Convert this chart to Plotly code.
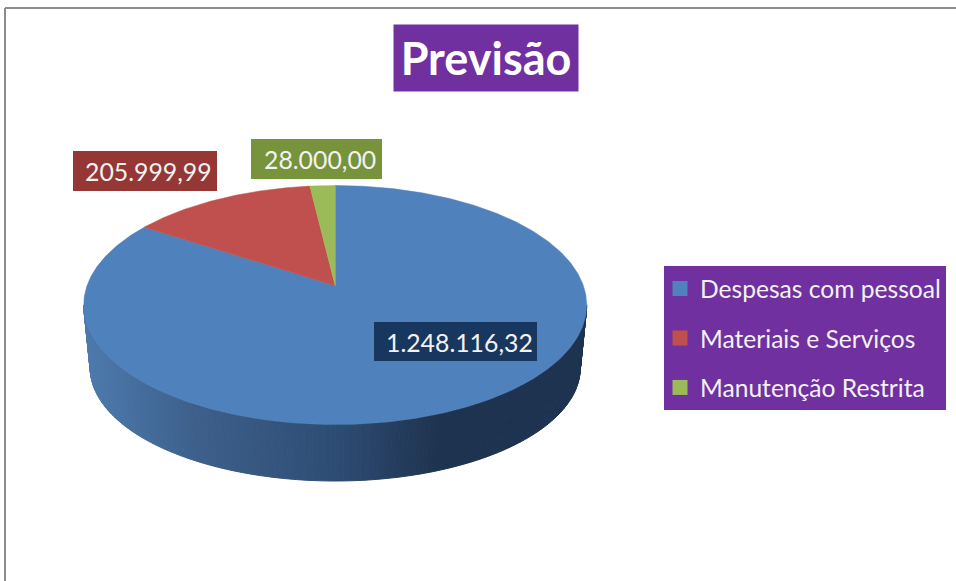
import numpy as np
import plotly.graph_objects as go

categories = ["Despesas com pessoal", "Materiais e Serviços", "Manutenção Restrita"]
values = [1248116.32, 205999.99, 28000.00]
value_labels = ["1.248.116,32", "205.999,99", "28.000,00"]
colors = ["#4F81BD", "#C0504D", "#9BBB59"]
label_colors = ["#17375E", "#953735", "#77933C"]
title_text = "Previsão"

FONT = "Lato"
W, H = 956, 581
CX, CY, A, B = 335.2, 305.0, 251.5, 119.5   # top face ellipse, in pixels
BCX, BCY, BA, BB = 335.2, 368.0, 245.0, 113.0  # bottom rim ellipse
K = 0.85  # perspective of the tilted disc


def rim(theta):
    """Top-face rim point for a true pie angle, clockwise from 12 o'clock."""
    t = 2 * np.arctan2(K * np.sin(theta / 2), np.cos(theta / 2))
    return CX + A * np.sin(t), CY - B * np.cos(t)


APEX = rim(np.pi / 2)[1]


def wedge(start, end):
    th = np.linspace(start, end, max(3, int((end - start) * 90)))
    x, y = rim(th)
    return np.r_[CX, x, CX], np.r_[APEX, y, APEX]


def side_colour(x):
    stops_x = [90, 200, 335, 437, 590]
    stops_r = [76, 61, 46, 31, 30]
    stops_g = [122, 95, 77, 52, 51]
    stops_b = [172, 138, 117, 80, 80]
    return "rgb(%d,%d,%d)" % (
        np.interp(x, stops_x, stops_r),
        np.interp(x, stops_x, stops_g),
        np.interp(x, stops_x, stops_b),
    )


fig = go.Figure()

# side wall (front half of the disc), shaded in thin vertical strips
edges = np.linspace(np.pi / 2, 3 * np.pi / 2, 181)
for t0, t1 in zip(edges[:-1], edges[1:]):
    xs = [CX + A * np.sin(t0), CX + A * np.sin(t1), BCX + BA * np.sin(t1), BCX + BA * np.sin(t0)]
    ys = [CY - B * np.cos(t0), CY - B * np.cos(t1), BCY - BB * np.cos(t1), BCY - BB * np.cos(t0)]
    c = side_colour(np.mean(xs))
    fig.add_trace(go.Scatter(x=xs + xs[:1], y=ys + ys[:1], mode="lines", fill="toself",
                             fillcolor=c, line=dict(color=c, width=1),
                             hoverinfo="skip", showlegend=False))

# top face wedges: first slice starts at 12 o'clock and runs clockwise
shares = np.array(values) / np.sum(values) * 2 * np.pi
bounds = np.r_[0, np.cumsum(shares)]
for i, cat in enumerate(categories):
    x, y = wedge(bounds[i], bounds[i + 1])
    fig.add_trace(go.Scatter(x=x, y=y, mode="lines", fill="toself", fillcolor=colors[i],
                             line=dict(color=colors[i], width=0.5), name=cat,
                             hoverinfo="name", showlegend=False))

# legend swatches
for i, cat in enumerate(categories):
    fig.add_trace(go.Scatter(x=[None], y=[None], mode="markers", name=cat, legendgroup=cat,
                             marker=dict(symbol="square", size=15, color=colors[i])))

# data labels: box edges (x0, x1, y0, y1) in pixels, text centred with a small right offset
label_boxes = [(374, 537, 322, 361), (73, 217, 151, 191), (251, 382, 139, 179)]
annotations, shapes = [], []
for (x0, x1, y0, y1), txt, col in zip(label_boxes, value_labels, label_colors):
    shapes.append(dict(type="rect", xref="x", yref="y", x0=x0, x1=x1, y0=y0, y1=y1,
                       fillcolor=col, line=dict(width=0), layer="above"))
    annotations.append(dict(x=(x0 + x1) / 2 + 3.5, y=(y0 + y1) / 2 + 0.5, xref="x", yref="y", text=txt,
                            showarrow=False, xanchor="center", yanchor="middle",
                            font=dict(family=FONT, size=24.8, color="#F2F2F2")))
annotations.append(dict(x=485.5, y=58, xref="x", yref="y", text="<b>%s</b>" % title_text,
                        showarrow=False, width=184, height=66, bgcolor="#7030A0", borderpad=0,
                        align="center", valign="middle",
                        font=dict(family=FONT, size=45, color="#FFFFFF")))

shapes += [
    dict(type="line", xref="x", yref="y", x0=5, y0=8, x1=W, y1=8, line=dict(color="#8C8C8C", width=2)),
    dict(type="line", xref="x", yref="y", x0=5, y0=8, x1=5, y1=H, line=dict(color="#8C8C8C", width=2)),
]

fig.update_layout(
    width=W, height=H, autosize=False,
    margin=dict(l=0, r=0, t=0, b=0),
    paper_bgcolor="#FFFFFF", plot_bgcolor="#FFFFFF",
    xaxis=dict(range=[0, W], visible=False, fixedrange=True),
    yaxis=dict(range=[H, 0], visible=False, fixedrange=True),
    annotations=annotations,
    shapes=shapes,
    legend=dict(x=664 / W, y=1 - 266 / H, xanchor="left", yanchor="top",
                bgcolor="#7030A0", borderwidth=0, tracegroupgap=14.5, indentation=-4,
                entrywidth=244, entrywidthmode="pixels", traceorder="grouped",
                font=dict(family=FONT, size=24.6, color="#F2F2F2")),
)
fig.write_html("out.html", config={"displayModeBar": False},
               post_script="document.body.style.margin='0';document.body.style.overflow='hidden';")
